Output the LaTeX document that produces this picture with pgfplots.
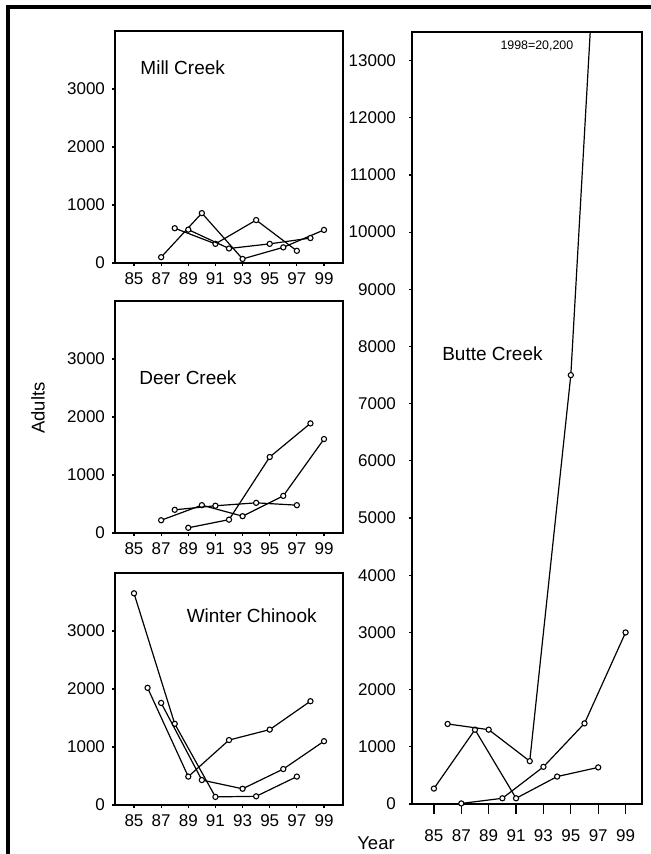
\documentclass[border=0pt]{standalone}
\usepackage{fontspec}
\setmainfont{Liberation Sans}
\usepackage{pgfplots}
\pgfplotsset{compat=1.18}
\tikzset{ttl/.style={anchor=west, inner sep=0pt, font=\fontsize{9.5}{11}\selectfont}}
\begin{document}
\begin{tikzpicture}[x=1pt,y=1pt]
\path[use as bounding box] (0,0) rectangle (325,-427);
\pgfplotsset{
 panel/.style={
  scale only axis, width=114pt, height=116pt,
  xmin=83.6, xmax=100.4, ymin=0, ymax=4000,
  xtick={85,87,...,99}, ytick={0,1000,2000,3000},
  tick align=outside, xtick pos=left, ytick pos=left,
  major tick length=1.5pt,
  axis line style={line width=0.65pt},
  every tick/.style={line width=0.6pt, black},
  tick label style={font=\fontsize{8.5}{10}\selectfont},
  /pgf/number format/assume math mode=true,
  /pgf/number format/1000 sep={},
  scaled ticks=false,
  clip mode=individual,
 },
 cohort/.style={black, line width=0.6pt, mark=*, mark size=1.3pt,
   mark options={fill=white, draw=black, line width=0.55pt, solid}},
}
% Mill Creek
\begin{axis}[panel, at={(57.5pt,-131.5pt)}, anchor=south west]
\addplot[cohort] coordinates {(87,100) (90,860) (93,70) (96,270) (99,570)};
\addplot[cohort] coordinates {(88,600) (91,330) (94,740) (97,210)};
\addplot[cohort] coordinates {(89,575) (92,250) (95,330) (98,430)};
\node[ttl] at (rel axis cs:0.11,0.84) {Mill Creek};
\end{axis}
% Deer Creek
\begin{axis}[panel, at={(57.5pt,-266.5pt)}, anchor=south west]
\addplot[cohort] coordinates {(87,220) (90,480) (93,290) (96,640) (99,1620)};
\addplot[cohort] coordinates {(88,400) (91,470) (94,520) (97,480)};
\addplot[cohort] coordinates {(89,90) (92,230) (95,1310) (98,1890)};
\node[ttl] at (rel axis cs:0.105,0.668) {Deer Creek};
\end{axis}
% Winter Chinook
\begin{axis}[panel, at={(57.5pt,-402.5pt)}, anchor=south west]
\addplot[cohort] coordinates {(85,3650) (88,1400) (91,140) (94,150) (97,490)};
\addplot[cohort] coordinates {(86,2020) (89,490) (92,1120) (95,1300) (98,1790)};
\addplot[cohort] coordinates {(87,1760) (90,430) (93,280) (96,620) (99,1100)};
\node[ttl] at (rel axis cs:0.313,0.815) {Winter Chinook};
\end{axis}
% Butte Creek
\begin{axis}[panel, at={(206pt,-402pt)}, anchor=south west,
  width=115pt, height=386pt, xmin=83.4, xmax=100.2, ymax=13500,
  ytick={0,1000,...,13000},
  xtick=\empty,
  extra x ticks={85,87,...,99},
  extra x tick style={major tick length=5pt, xticklabel style={yshift=-4.5pt}},
  yticklabel style={xshift=-3pt}]
\addplot[cohort] coordinates {(85,270) (88,1300) (91,100) (94,480) (97,640)};
\addplot[cohort] coordinates {(86,1400) (89,1300) (92,750) (95,7500) (98,20200)};
\addplot[cohort] coordinates {(87,10) (90,100) (93,650) (96,1410) (99,3000)};
\node[ttl] at (rel axis cs:0.13,0.583) {Butte Creek};
\node[inner sep=0pt, font=\fontsize{6.2}{7}\selectfont] at (rel axis cs:0.543,0.982) {1998=20,200};
\end{axis}
\node[rotate=90, font=\fontsize{9.25}{11}\selectfont] at (19,-204) {Adults};
\node[font=\fontsize{9.25}{11}\selectfont] at (188,-421.5) {Year};
\draw[line width=2pt, line join=miter] (4,-440) -- (4,-3.5) -- (340,-3.5);
\end{tikzpicture}
\end{document}
